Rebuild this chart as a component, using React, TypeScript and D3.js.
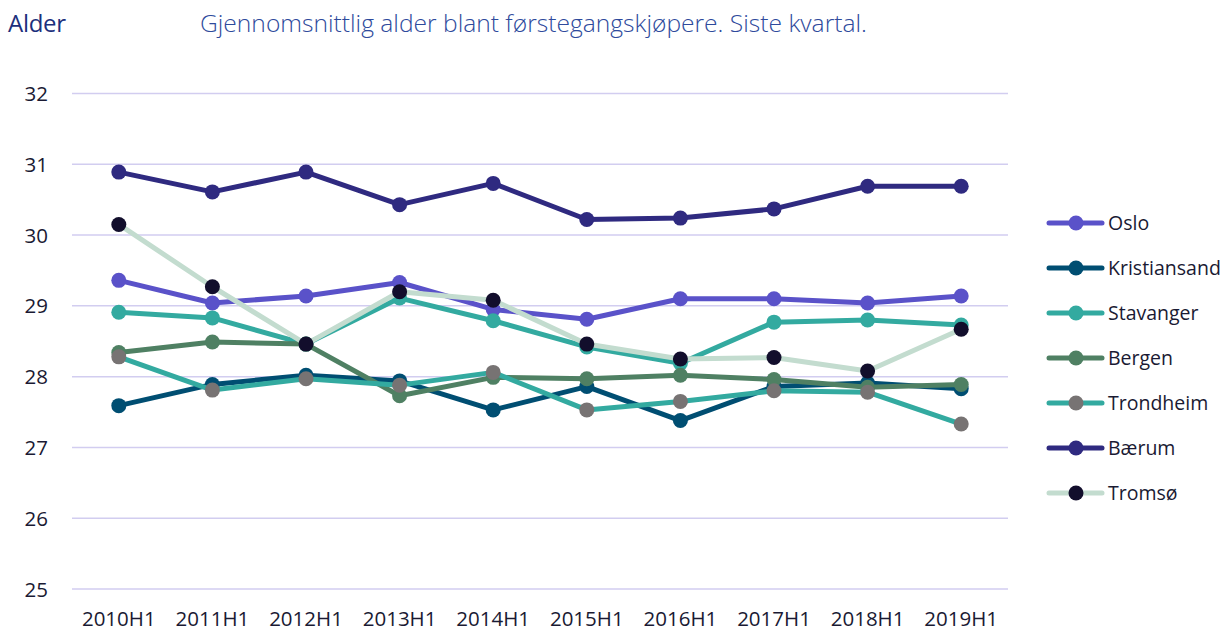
import React, { useEffect, useRef } from 'react';
import * as d3 from 'd3';

const periods = ['2010H1', '2011H1', '2012H1', '2013H1', '2014H1', '2015H1', '2016H1', '2017H1', '2018H1', '2019H1'];
const yTicks = [25, 26, 27, 28, 29, 30, 31, 32];

const oslo = [29.36, 29.04, 29.14, 29.33, 28.95, 28.81, 29.10, 29.10, 29.04, 29.14];
const kristiansand = [27.59, 27.89, 28.02, 27.94, 27.53, 27.86, 27.38, 27.86, 27.91, 27.83];
const stavanger = [28.91, 28.83, 28.46, 29.11, 28.79, 28.42, 28.19, 28.77, 28.80, 28.73];
const bergen = [28.34, 28.49, 28.46, 27.73, 27.99, 27.97, 28.02, 27.96, 27.85, 27.89];
const trondheim = [28.28, 27.81, 27.97, 27.88, 28.06, 27.53, 27.65, 27.80, 27.78, 27.33];
const baerum = [30.89, 30.61, 30.89, 30.43, 30.73, 30.22, 30.24, 30.37, 30.69, 30.69];
const tromso = [30.15, 29.27, 28.46, 29.20, 29.08, 28.46, 28.25, 28.27, 28.08, 28.67];

interface Series {
    name: string
    values: number[]
    line: string
    marker: string
}

const SERIES: Series[] = [
    { name: 'Oslo', values: oslo, line: '#5a52c9', marker: '#5a52c9' },
    { name: 'Kristiansand', values: kristiansand, line: '#004e72', marker: '#004e72' },
    { name: 'Stavanger', values: stavanger, line: '#33aaa0', marker: '#33aaa0' },
    { name: 'Bergen', values: bergen, line: '#4f8063', marker: '#4f8063' },
    { name: 'Trondheim', values: trondheim, line: '#33aaa0', marker: '#777373' },
    { name: 'Bærum', values: baerum, line: '#2f2a80', marker: '#2f2a80' },
    { name: 'Tromsø', values: tromso, line: '#c3dccf', marker: '#120e2c' },
];

const W = 1231;
const H = 633;
const PLOT = { left: 72, right: 1008, top: 93.5, bottom: 589 };
const FONT = "'Open Sans', 'Noto Sans', sans-serif";
const TEXT = '#1a1a33';

const App = () => {
    const ref = useRef<SVGSVGElement>(null);

    useEffect(() => {
        const svg = d3.select(ref.current);
        svg.selectAll('*').remove();

        const x = d3.scalePoint<string>()
            .domain(periods)
            .range([PLOT.left, PLOT.right])
            .padding(0.5);

        const y = d3.scaleLinear()
            .domain([25, 32])
            .range([PLOT.bottom, PLOT.top]);

        // titles
        svg.append('text')
            .attr('x', 8)
            .attr('y', 32)
            .attr('font-family', FONT)
            .attr('font-size', 24)
            .attr('letter-spacing', -0.3)
            .attr('fill', '#1c2f7c')
            .text('Alder');

        svg.append('text')
            .attr('x', 200)
            .attr('y', 32)
            .attr('font-family', FONT)
            .attr('font-size', 24.6)
            .attr('font-weight', 300)
            .attr('fill', '#2e4a9c')
            .text('Gjennomsnittlig alder blant førstegangskjøpere. Siste kvartal.');

        // gridlines + y labels
        const grid = svg.append('g');
        grid.selectAll('line')
            .data(yTicks)
            .enter().append('line')
            .attr('x1', PLOT.left)
            .attr('x2', PLOT.right)
            .attr('y1', d => y(d))
            .attr('y2', d => y(d))
            .attr('stroke', '#d2cdf0')
            .attr('stroke-width', 1.5);

        grid.selectAll('text')
            .data(yTicks)
            .enter().append('text')
            .attr('x', 48)
            .attr('y', d => y(d) + 7.5)
            .attr('text-anchor', 'end')
            .attr('font-family', FONT)
            .attr('font-size', 20.5)
            .attr('fill', TEXT)
            .text(d => d);

        // x labels
        svg.append('g').selectAll('text')
            .data(periods)
            .enter().append('text')
            .attr('x', d => x(d)!)
            .attr('y', 626)
            .attr('text-anchor', 'middle')
            .attr('font-family', FONT)
            .attr('font-size', 20.5)
            .attr('fill', TEXT)
            .text(d => d);

        const line = d3.line<number>()
            .x((_, i) => x(periods[i])!)
            .y(d => y(d));

        // each series: line then markers
        SERIES.forEach(s => {
            const g = svg.append('g');
            g.append('path')
                .datum(s.values)
                .attr('fill', 'none')
                .attr('stroke', s.line)
                .attr('stroke-width', 5)
                .attr('stroke-linejoin', 'round')
                .attr('d', line);
            g.selectAll('circle')
                .data(s.values)
                .enter().append('circle')
                .attr('cx', (_, i) => x(periods[i])!)
                .attr('cy', d => y(d))
                .attr('r', 7.5)
                .attr('fill', s.marker);
        });

        // legend
        const legend = svg.append('g');
        SERIES.forEach((s, i) => {
            const ly = 223 + i * 45;
            legend.append('line')
                .attr('x1', 1049)
                .attr('x2', 1102)
                .attr('y1', ly)
                .attr('y2', ly)
                .attr('stroke', s.line)
                .attr('stroke-width', 5)
                .attr('stroke-linecap', 'round');
            legend.append('circle')
                .attr('cx', 1076)
                .attr('cy', ly)
                .attr('r', 7.5)
                .attr('fill', s.marker);
            legend.append('text')
                .attr('x', 1108)
                .attr('y', ly + 7)
                .attr('font-family', FONT)
                .attr('font-size', 19.5)
                .attr('fill', TEXT)
                .text(s.name);
        });
    }, []);

    return (
        <svg ref={ref} width={W} height={H} style={{ position: 'absolute', left: 0, top: 0, display: 'block' }}></svg>
    );
};

export default App;
